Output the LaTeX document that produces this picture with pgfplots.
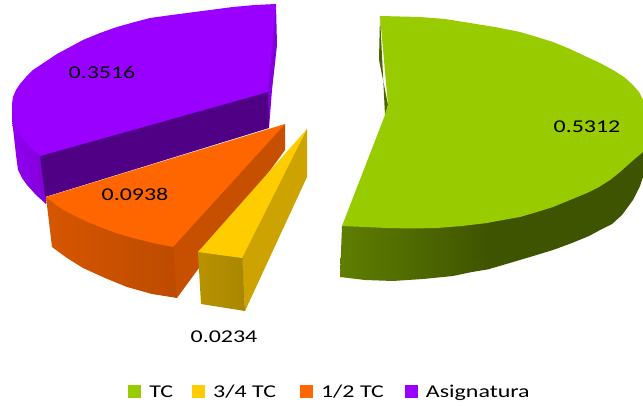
\documentclass[border=0pt]{standalone}
\usepackage{fontspec}
\setmainfont{Carlito}
\usepackage{pgfplots}
\pgfplotsset{compat=1.18}
\definecolor{gT}{HTML}{99CC00}
\definecolor{yT}{HTML}{FFCC00}
\definecolor{oT}{HTML}{FF6600}
\definecolor{pT}{HTML}{9900FF}
\newcommand{\wlab}[1]{\scalebox{1.33}[1]{#1}}
\begin{document}
\begin{tikzpicture}
\useasboundingbox (0,0) rectangle (643pt,406pt);
\begin{axis}[
  scale only axis, width=643pt, height=406pt,
  xmin=0, xmax=643, ymin=0, ymax=406, y dir=reverse,
  axis lines=none, clip=true,
  area legend,
  legend columns=4,
  legend style={at={(axis cs:329.5,392)}, anchor=center, draw=none, fill=none,
    font=\fontsize{18}{20}\selectfont,
    /tikz/every even column/.style={column sep=20pt},
    /tikz/every odd column/.style={column sep=7pt},
    nodes={inner sep=1pt}},
  legend image code/.code={\fill[#1] (0cm,-5.5pt) rectangle (13pt,7.5pt);},
]
% --- Asignatura
\addplot[forget plot, fill=pT!85!black, draw=none] coordinates {(276,4)(277,45)(272,90)(269,128)(262,92)};
\addplot[forget plot, left color=pT!95!black, right color=pT!85!black, draw=none] coordinates
 {(12,107)(12,120)(14,137)(16,155)(18,170)(22,178)(27,185)(36,195)(46,204)(46,190)(45,140)(30,120)(20,105)};
\addplot[forget plot, fill=pT!52!black, draw=none] coordinates {(35,150)(268,85)(269,128)(45,197)(40,156)};
% --- 1/2 TC sides
\addplot[forget plot, fill=oT!78!black, draw=none] coordinates {(285,124)(285,150)(177,298)(165,230)};
\addplot[forget plot, left color=oT!84!black, right color=oT!74!black, draw=none] coordinates
 {(46,197)(52,247)(67,258)(83,268)(105,278)(127,287)(152,294)(177,298)(173,236)(133,228)(100,215)(67,205)};
% --- 3/4 TC sides
\addplot[forget plot, fill=yT!80!black, draw=none] coordinates {(307,129)(307,177)(245,311)(242,258)(235,250)};
\addplot[forget plot, left color=yT!72!black, right color=yT!66!black, draw=none] coordinates {(198,252)(201,304)(245,311)(242,250)};
% --- TC sides
\addplot[forget plot, fill=gT!50!black, draw=none] coordinates {(380,16)(385,115)(388,105)(379,60)};
\addplot[forget plot, fill=gT!41!black, draw=none] coordinates
 {(489,210)(489,269)(503,265)(530,257)(553,250)(572,243)(589,236)(602,229)(612,224)(622,215)(633,200)(640,186)(643,177)(643,140)(620,160)(587,185)(537,200)};
\addplot[forget plot, left color=gT!62!black, right color=gT!41!black, draw=none] coordinates
 {(342,226)(340,277)(365,280)(393,281)(423,279)(453,276)(472,272)(490,269)(490,212)(437,216)(387,216)};
% --- top faces, in legend order
\addplot[fill=gT, draw=none] coordinates
 {(380,16)(400,16.5)(420,17)(445,19)(470,23)(495,27)(520,32)(537,37)(553,42)(570,49)(587,57)(600,63)(613,70)(624,77)(633,85)(639,92)(643,100)(643,152)(637,157)(630,163)(620,172)(610,180)(599,187)(587,193)(570,200)(553,207)(537,212)(520,217)(503,220)(487,223)(462,226)(437,228)(412,228.5)(387,228)(365,227)(342,226)(385,115)(388,105)};
\addlegendentry{\wlab{TC}\hspace*{-2pt}}
\addplot[fill=yT, draw=none] coordinates {(307,129)(198,252)(242,258)};
\addlegendentry{\wlab{3/4 TC}\hspace*{3pt}}
\addplot[fill=oT, draw=none] coordinates {(285,124)(46,197)(56,205)(67,212)(83,220)(100,227)(116,233)(133,238)(153,243)(173,247)};
\addlegendentry{\wlab{1/2 TC}}
\addplot[fill=pT, draw=none] coordinates
 {(276,4)(255,5)(233,7)(210,10)(187,13)(168,15.5)(150,18)(133,22.5)(117,27)(100,33)(83,40)(70,47)(57,54)(45,62)(33,70)(26,77)(20,84)(16,90)(13,97)(12,104)(12,110)(14,120)(18,132)(22,138)(27,143)(33,150)(40,156)(268,92)};
\addlegendentry{\wlab{Asignatura}}
% --- value labels
\addplot[forget plot, draw=none, mark=none, point meta=explicit symbolic,
  nodes near coords={\wlab{\pgfplotspointmeta}},
  nodes near coords style={anchor=center, text=black, font=\fontsize{18}{20}\selectfont}]
 coordinates {(587,127)[0.5312] (102,72)[0.3516] (135,194)[0.0938] (224,337)[0.0234]};
\end{axis}
\end{tikzpicture}
\end{document}
